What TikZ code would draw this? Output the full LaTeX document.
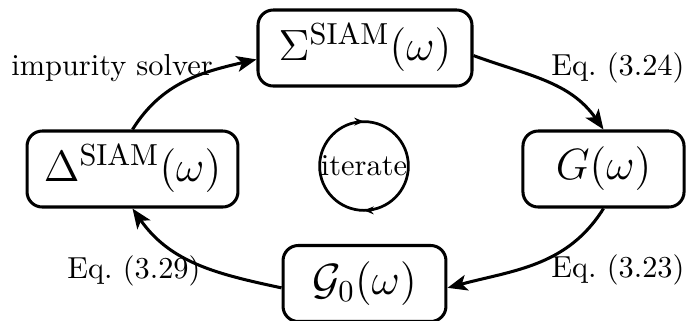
\documentclass[tikz,border=0pt]{standalone}
\usepackage{amsmath,amssymb}
\usepackage{tikz}
\usetikzlibrary{arrows.meta,decorations.markings}

\begin{document}
\begin{tikzpicture}[
  x=0.329pt,y=0.329pt,
  box/.style={rectangle,draw,rounded corners=5pt,line width=1pt,minimum height=25pt,font=\Large},
  lbl/.style={inner sep=0pt,font=\normalsize},
  arr/.style={line width=1pt,-{Stealth[length=6.5pt,width=5.2pt,inset=1.6pt]}},
  loopy/.style={line width=0.9pt,postaction={decorate},decoration={markings,
    mark=at position 0.25 with {\arrowreversed{Stealth[length=3.2pt,width=2.6pt]}},
    mark=at position 0.75 with {\arrowreversed{Stealth[length=3.2pt,width=2.6pt]}}}}
]
\useasboundingbox (0,0) rectangle (686,320);
\node[box,minimum width=70.4pt] (sigma) at (365,272) {$\Sigma^{\mathrm{SIAM}}(\omega)$};
\node[box,minimum width=53pt] (g) at (603.5,151) {$G(\omega)$};
\node[box,minimum width=53.6pt] (g0) at (364.5,36.5) {$\mathcal{G}_0(\omega)$};
\node[box,minimum width=69.4pt] (delta) at (132.5,151) {$\Delta^{\mathrm{SIAM}}(\omega)$};
\node[lbl] (iter) at (364,154) {iterate};
\node[lbl] (solver) at (112,252) {impurity solver};
\node[lbl] (eq24) at (618,252) {Eq.~(3.24)};
\node[lbl] (eq23) at (618,50) {Eq.~(3.23)};
\node[lbl] (eq29) at (134,49) {Eq.~(3.29)};
\draw[loopy] (iter.center) circle[radius=14.6pt];
\draw[arr] (delta.north) to[out=58,in=193] (sigma.186);
\draw[arr] (sigma.-4) to[out=-20,in=125] (g.north);
\draw[arr] (g.south) to[out=-122,in=15] (g0.-3);
\draw[arr] (g0.183) to[out=168,in=-55] (delta.south);
\end{tikzpicture}
\end{document}
